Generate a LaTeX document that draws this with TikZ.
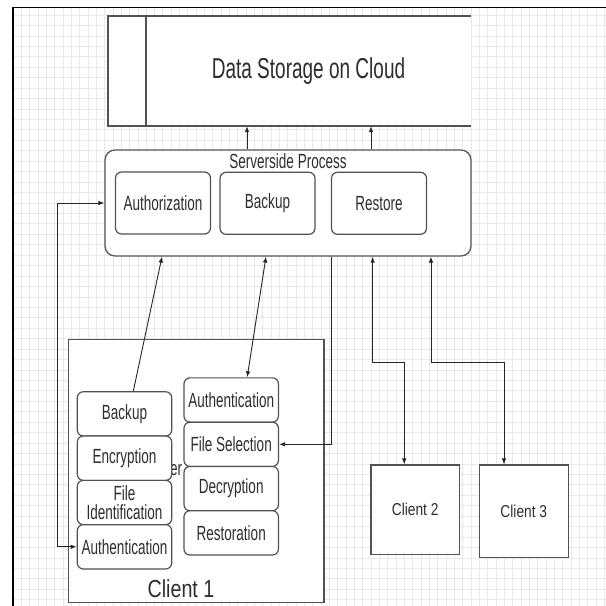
\documentclass[tikz,border=0pt]{standalone}
\usepackage{fontspec}
\setmainfont{Liberation Sans}
\newfontfamily\narrowfont[FakeStretch=0.66]{Liberation Sans}
\newfontfamily\clientfont[FakeStretch=0.8]{Liberation Sans}
\usetikzlibrary{arrows.meta}
\begin{document}
\begin{tikzpicture}[x=1pt,y=-1pt,
    gridline/.style={draw=black!9,line width=0.7pt},
    outline/.style={draw=black!68,line width=1.2pt},
    box/.style={outline,fill=white,rounded corners=6pt,inner sep=0pt,align=center,
      text=black!82,font=\narrowfont\fontsize{20.5}{19}\selectfont},
    colbox/.style={box,minimum width=94.4pt,minimum height=44.3pt},
    srvbox/.style={box,minimum width=95pt,minimum height=62pt},
    plain/.style={outline,fill=white,inner sep=0pt},
    conn/.style={draw=black!85,line width=0.9pt},
    >={Latex[length=6pt,width=4.5pt]},
    node distance=44.3pt]
    \useasboundingbox (0,0) rectangle (606,606);

    \foreach \i in {0,...,71}
      \draw[gridline] ({12.9+8.33*\i},7.5) -- ({12.9+8.33*\i},606);
    \foreach \j in {0,...,56}
      \draw[gridline] (13,{15+10.44*\j}) -- (606,{15+10.44*\j});
    \draw[line width=1.8pt] (606,7.5) -- (13,7.5) -- (13,606);

    \fill[white] (108,16) rectangle (471,126);
    \draw[outline] (471,16) -- (108,16) -- (108,126) -- (471,126);
    \draw[outline] (146,16) -- (146,126);
    \node[minimum width=325pt,minimum height=110pt,inner sep=0pt,text=black!82,
      font=\narrowfont\fontsize{28.8}{30}\selectfont] (store) at (308.5,71) {Data Storage on Cloud};

    \node[box,rounded corners=10pt,minimum width=366pt,minimum height=106pt] (server) at (288,203) {};
    \node[text=black!82,font=\narrowfont\fontsize{20.5}{19}\selectfont] (slbl) at (288,161) {Serverside Process};
    \node[srvbox] (sauth) at (163,203) {Authorization};
    \node[srvbox] (sback) at (267.5,203.3) {Backup};
    \node[srvbox] (srest) at (379,203.3) {Restore};

    \node[plain,minimum width=255.7pt,minimum height=263.4pt] (c1) at (196.2,471) {};
    \node[text=black!82,font=\clientfont\fontsize{24.6}{26}\selectfont] (c1lbl) at (181,589) {Client 1};
    \node[text=black!82,font=\narrowfont\fontsize{20.5}{19}\selectfont] (frag) at (176.2,470.5) {er};

    \node[colbox]            (l1) at (124.5,413.9) {Backup};
    \node[colbox,below of=l1] (l2) {Encryption};
    \node[colbox,below of=l2] (l3) {File\\Identification};
    \node[colbox,below of=l3] (l4) {Authentication};

    \node[colbox]            (r1) at (231.2,400) {Authentication};
    \node[colbox,below of=r1] (r2) {File Selection};
    \node[colbox,below of=r2] (r3) {Decryption};
    \node[colbox,below of=r3] (r4) {Restoration};

    \node[plain,minimum width=88.3pt,minimum height=89.3pt,text=black!82,
      font=\clientfont\fontsize{17.2}{19}\selectfont] (c2) at (415.2,509.7) {Client 2};
    \node[plain,minimum width=89pt,minimum height=92.3pt,text=black!82,
      font=\clientfont\fontsize{17.2}{19}\selectfont] (c3) at (523.8,511.2) {Client 3};

    \coordinate (u1) at (247,0);
    \coordinate (u2) at (371,0);
    \draw[conn,->] (server.north -| u1) -- (store.south -| u1);
    \draw[conn,->] (server.north -| u2) -- (store.south -| u2);

    \draw[conn,->] ([xshift=8.8pt]l1.north) -- ([xshift=-126pt]server.south);
    \draw[conn,<->] ([xshift=-22pt]server.south) -- ([xshift=16pt]r1.north);
    \draw[conn,->] ([xshift=43.7pt]server.south) |- (r2.east);
    \draw[conn,<->] ([xshift=84.7pt]server.south) -- ++(0,105.7) -| ([xshift=-11pt]c2.north);
    \draw[conn,<->] ([xshift=143pt]server.south) -- ++(0,105.7) -| ([xshift=-19.8pt]c3.north);
    \draw[conn,<->] (l4.west) -- ++(-19,0) |- (server.west);
  \end{tikzpicture}
\end{document}
